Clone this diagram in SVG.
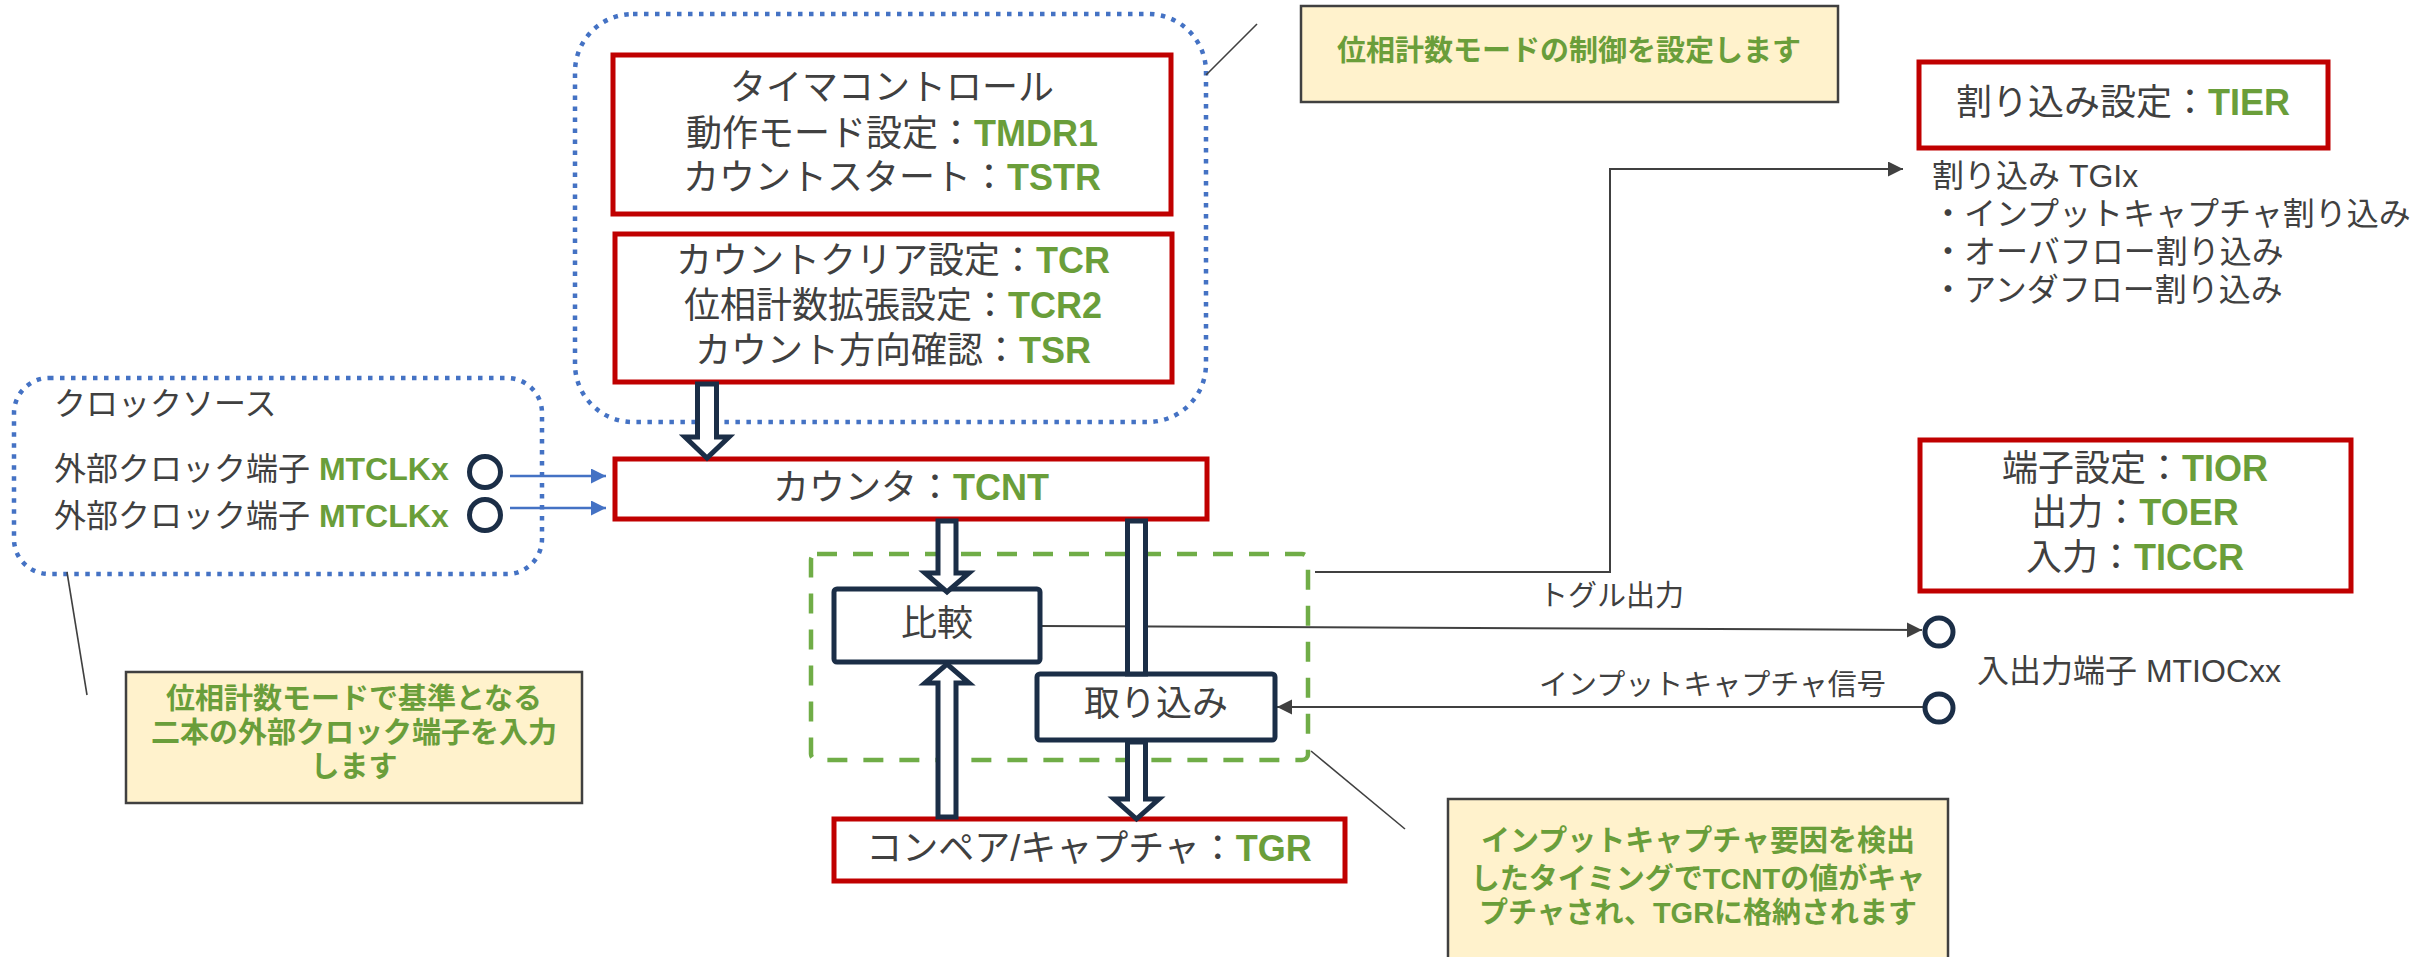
<svg xmlns="http://www.w3.org/2000/svg" width="2435" height="957" viewBox="0 0 2435 957">
<defs>
<style>
.t{font-family:"Liberation Sans","Noto Sans CJK JP",sans-serif;fill:#404040}
.b{font-size:36px}
.s{font-size:32px}
.m{font-size:29px}
.g{fill:#6A9E3A;font-weight:bold}
.n{font-family:"Liberation Sans","Noto Sans CJK JP",sans-serif;font-size:29px;font-weight:bold;fill:#6A9E3A}
.red{fill:#fff;stroke:#C00000;stroke-width:5}
.navy{fill:#fff;stroke:#1B2E47;stroke-width:5}
.hollow{fill:#fff;stroke:#1B2E47;stroke-width:5;stroke-linejoin:miter}
.note{fill:#FFF2CC;stroke:#404040;stroke-width:2.5}
.pin{fill:none;stroke:#1B2E47;stroke-width:5}
.blue{fill:none;stroke:#4472C4;stroke-width:4.5;stroke-dasharray:4.5 6.5}
.line{fill:none;stroke:#404040;stroke-width:2}
.lead{fill:none;stroke:#404040;stroke-width:1.6}
.bl{fill:none;stroke:#4472C4;stroke-width:2.5}
</style>
<marker id="ad" markerUnits="userSpaceOnUse" markerWidth="16" markerHeight="16" refX="15" refY="7.5" orient="auto"><path d="M0,0 L15,7.5 L0,15 z" fill="#404040"/></marker>
<marker id="ab" markerUnits="userSpaceOnUse" markerWidth="16" markerHeight="16" refX="15" refY="7.5" orient="auto"><path d="M0,0 L15,7.5 L0,15 z" fill="#4472C4"/></marker>
</defs>
<rect width="2435" height="957" fill="#fff"/>

<g id="timer-group">
<rect class="blue" x="575" y="14" width="631" height="408" rx="58"/>
</g>
<g id="clock-group">
<rect class="blue" x="14" y="378" width="528" height="196" rx="35"/>
<text class="t s" x="54" y="415">クロックソース</text>
</g>

<g id="connectors">
<path class="lead" d="M1206,75 L1257,24"/>
<path class="lead" d="M67,572 L87,695"/>
<path class="lead" d="M1311,751 L1405,829"/>
<path class="bl" d="M510,476 H606" marker-end="url(#ab)"/>
<path class="bl" d="M510,508 H606" marker-end="url(#ab)"/>
<path class="line" d="M1315,572 H1610 V169 H1903" marker-end="url(#ad)"/>
<path class="line" d="M1041,626 L1922,630" marker-end="url(#ad)"/>
<path class="line" d="M1923,707 L1277,707" marker-end="url(#ad)"/>
</g>

<g id="green-group">
<rect x="811" y="554" width="497" height="206" rx="6" fill="none" stroke="#70AD47" stroke-width="4.5" stroke-dasharray="20 16"/>
</g>

<g id="timer-control">
<rect class="red" x="613" y="55" width="558" height="159"/>
<text class="t b" x="892" y="100" text-anchor="middle">タイマコントロール</text>
<text class="t b" x="892" y="146" text-anchor="middle">動作モード設定：<tspan class="g">TMDR1</tspan></text>
<text class="t b" x="892" y="190" text-anchor="middle">カウントスタート：<tspan class="g">TSTR</tspan></text>
</g>
<g id="count-settings">
<rect class="red" x="615" y="234" width="557" height="148"/>
<text class="t b" x="893" y="273" text-anchor="middle">カウントクリア設定：<tspan class="g">TCR</tspan></text>
<text class="t b" x="893" y="318" text-anchor="middle">位相計数拡張設定：<tspan class="g">TCR2</tspan></text>
<text class="t b" x="893" y="363" text-anchor="middle">カウント方向確認：<tspan class="g">TSR</tspan></text>
</g>
<g id="counter">
<rect class="red" x="615" y="459" width="592" height="60"/>
<text class="t b" x="911" y="500" text-anchor="middle">カウンタ：<tspan class="g">TCNT</tspan></text>
</g>
<g id="tgr">
<rect class="red" x="834" y="819" width="511" height="62"/>
<text class="t b" x="1089" y="861" text-anchor="middle">コンペア/キャプチャ：<tspan class="g">TGR</tspan></text>
</g>
<g id="compare">
<rect class="navy" x="834" y="589" width="206" height="73" rx="3"/>
<text class="t b" x="937" y="636" text-anchor="middle">比較</text>
</g>
<g id="capture">
<rect class="navy" x="1037" y="674" width="238" height="66" rx="3"/>
<text class="t b" x="1156" y="716" text-anchor="middle">取り込み</text>
</g>

<g id="hollow-arrows">
<polygon class="hollow" points="697.5,384 716.5,384 716.5,437 729,437 707,458 685,437 697.5,437"/>
<polygon class="hollow" points="938,521 956,521 956,573 969,573 947,592 925,573 938,573"/>
<rect class="hollow" x="1127.5" y="521" width="18" height="153"/>
<polygon class="hollow" points="1127.5,742 1145.5,742 1145.5,799 1159,799 1136.5,819 1114,799 1127.5,799"/>
<polygon class="hollow" points="938,817 956,817 956,683 969,683 947,664 925,683 938,683"/>
</g>

<g id="clock-pins">
<text class="t s" x="54" y="480">外部クロック端子 <tspan class="g">MTCLKx</tspan></text>
<text class="t s" x="54" y="527">外部クロック端子 <tspan class="g">MTCLKx</tspan></text>
<circle class="pin" cx="485" cy="472" r="15.5"/>
<circle class="pin" cx="485" cy="515" r="15.5"/>
</g>

<g id="note-clock">
<rect class="note" x="126" y="672" width="456" height="131"/>
<text class="n" x="354" y="709" text-anchor="middle">位相計数モードで基準となる</text>
<text class="n" x="354" y="743" text-anchor="middle">二本の外部クロック端子を入力</text>
<text class="n" x="354" y="777" text-anchor="middle">します</text>
</g>

<g id="note-top">
<rect class="note" x="1301" y="6" width="537" height="96"/>
<text class="n" x="1569" y="61" text-anchor="middle">位相計数モードの制御を設定します</text>
</g>

<g id="note-bottom">
<rect class="note" x="1448" y="799" width="500" height="175"/>
<text class="n" x="1698" y="851" text-anchor="middle">インプットキャプチャ要因を検出</text>
<text class="n" x="1698" y="889" text-anchor="middle">したタイミングでTCNTの値がキャ</text>
<text class="n" x="1698" y="923" text-anchor="middle">プチャされ、TGRに格納されます</text>
</g>

<g id="tier">
<rect class="red" x="1919" y="62" width="409" height="86"/>
<text class="t b" x="2123" y="115" text-anchor="middle">割り込み設定：<tspan class="g">TIER</tspan></text>
</g>
<g id="interrupt-list">
<text class="t s" x="1932" y="187">割り込み TGIx</text>
<text class="t s" x="1932" y="225">・インプットキャプチャ割り込み</text>
<text class="t s" x="1932" y="263">・オーバフロー割り込み</text>
<text class="t s" x="1932" y="301">・アンダフロー割り込み</text>
</g>

<g id="tior">
<rect class="red" x="1920" y="440" width="431" height="151"/>
<text class="t b" x="2135" y="481" text-anchor="middle">端子設定：<tspan class="g">TIOR</tspan></text>
<text class="t b" x="2135" y="525" text-anchor="middle">出力：<tspan class="g">TOER</tspan></text>
<text class="t b" x="2135" y="570" text-anchor="middle">入力：<tspan class="g">TICCR</tspan></text>
</g>

<g id="io-pins">
<text class="t m" x="1539" y="606">トグル出力</text>
<text class="t m" x="1539" y="695">インプットキャプチャ信号</text>
<circle class="pin" cx="1939" cy="632" r="14"/>
<circle class="pin" cx="1939" cy="708" r="14"/>
<text class="t s" x="1977" y="682">入出力端子 MTIOCxx</text>
</g>
</svg>
